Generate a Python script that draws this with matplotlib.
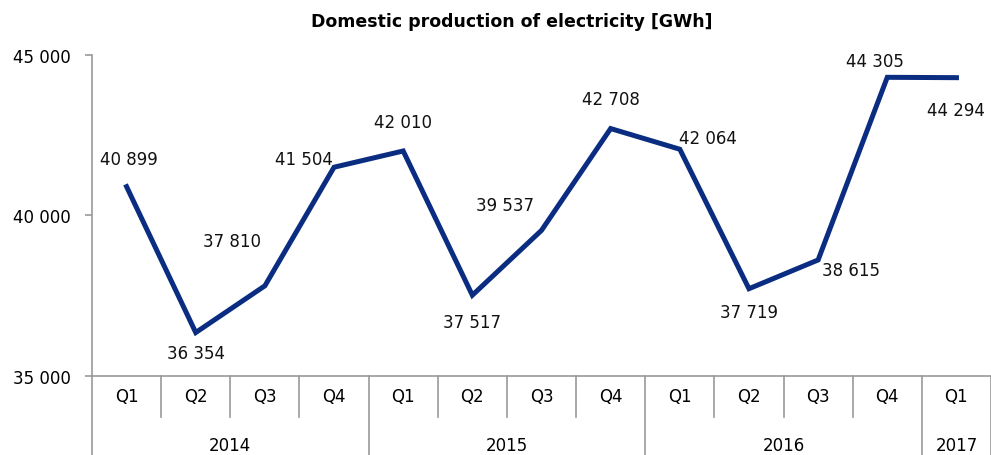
import matplotlib
matplotlib.use("Agg")
import matplotlib.pyplot as plt

quarters = ["Q1", "Q2", "Q3", "Q4", "Q1", "Q2", "Q3", "Q4", "Q1", "Q2", "Q3", "Q4", "Q1"]
years = ["2014", "2015", "2016", "2017"]
quarters_per_year = [4, 4, 4, 1]
production = [40899, 36354, 37810, 41504, 42010, 37517, 39537, 42708,
              42064, 37719, 38615, 44305, 44294]

# label offsets in points (dx, dy) relative to each point
label_offsets = [(2, 20), (0, -15), (-24, 32), (-22, 6), (0, 21), (0, -19),
                 (-26, 18), (0, 21), (20, 8), (0, -17), (24, -7), (-9, 12), (0, -23)]

LINE = "#0a2d82"
GREY = "#999999"

plt.rcParams["font.family"] = ["DejaVu Sans"]

fig = plt.figure(figsize=(9.91, 4.56), dpi=100)
W, H = 991, 456
ax = fig.add_axes([92 / W, 1 - 377 / H, (991 - 92) / W, (377 - 56) / H])

x = list(range(len(production)))
ax.plot(x, production, color=LINE, lw=3.6, solid_joinstyle="miter")

for xi, v, (dx, dy) in zip(x, production, label_offsets):
    ax.annotate(f"{v:,}".replace(",", " "), (xi, v), xytext=(dx, dy),
                textcoords="offset points", ha="center", va="center",
                fontsize=12, color="#111111")

ax.set_xlim(-0.5, len(production) - 0.5)
ax.set_ylim(35000, 45000)
ax.set_yticks([35000, 40000, 45000])
ax.set_yticklabels(["35 000", "40 000", "45 000"], fontsize=12)
ax.tick_params(axis="y", length=5, width=1.2, color=GREY, pad=10)
ax.set_xticks([])

for s in ["top", "right"]:
    ax.spines[s].set_visible(False)
for s in ["left", "bottom"]:
    ax.spines[s].set_color(GREY)
    ax.spines[s].set_linewidth(1.2)

tr = ax.get_xaxis_transform()
for i, q in enumerate(quarters):
    ax.text(i, -0.062, q, transform=tr, ha="center", va="center", fontsize=12)

year_edges = [-0.5]
for n in quarters_per_year:
    year_edges.append(year_edges[-1] + n)

for b in range(len(quarters) + 1):
    edge = b - 0.5
    depth = -0.26 if edge in year_edges else -0.128
    ax.plot([edge, edge], [0, depth], transform=tr, color=GREY, lw=1.2, clip_on=False)

for yr, lo, hi in zip(years, year_edges[:-1], year_edges[1:]):
    ax.text((lo + hi) / 2, -0.215, yr, transform=tr, ha="center", va="center", fontsize=12)

fig.text(512 / W, 1 - 22 / H, "Domestic production of electricity [GWh]",
         ha="center", va="center", fontsize=12.5, fontweight="bold")

fig.savefig("out.png", dpi=100)
